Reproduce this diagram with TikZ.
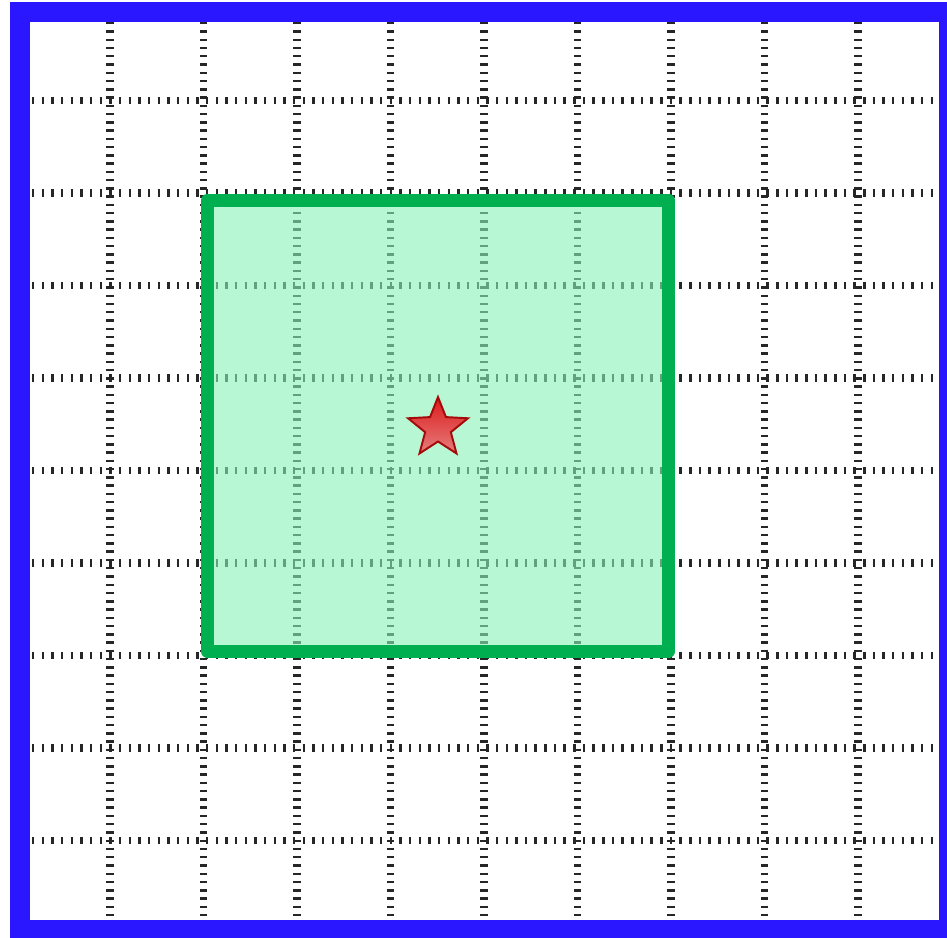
\documentclass[tikz,border=0pt]{standalone}
\begin{document}
\begin{tikzpicture}[x=0.02cm,y=-0.02cm,
  gridline/.style={draw=black!85, line width=4.4pt, dash pattern=on 1.4pt off 3.3pt},
  gridlineh/.style={draw=black!85, line width=4.0pt, dash pattern=on 1.4pt off 4.1pt}]
\definecolor{frameblue}{RGB}{42,22,255}
\definecolor{boxgreen}{RGB}{0,176,80}
\definecolor{boxfill}{RGB}{138,243,183}
\definecolor{stardark}{RGB}{165,10,10}
\useasboundingbox (0,0) rectangle (947,937);
\fill[white] (0,0) rectangle (947,937);
% grid
\foreach \k in {0,...,8} {
  \draw[gridline] ({110+93.5*\k},22) -- ({110+93.5*\k},920);
  \draw[gridlineh] (32,{100.5+92.5*\k}) -- (947,{100.5+92.5*\k});
}
% green square
\draw[draw=boxgreen, line width=7.4pt, line join=round, fill=boxfill, fill opacity=0.6]
  (207.5,200) rectangle (668.5,651.5);
% star
\shade[top color=red!85!black!90, bottom color=red!45!white!90!black, draw=stardark, line width=1.1pt, line join=miter]
  (438,397) \foreach \i in {1,...,9} { -- ({438+ (mod(\i,2)==0 ? 31.5 : 13.5)*cos(90+36*\i)}, {428 - (mod(\i,2)==0 ? 31.5 : 13.5)*sin(90+36*\i)}) } -- cycle;
% blue frame
\draw[frameblue, line width=11.34pt] (20,12) rectangle (949,930);
\end{tikzpicture}
\end{document}
